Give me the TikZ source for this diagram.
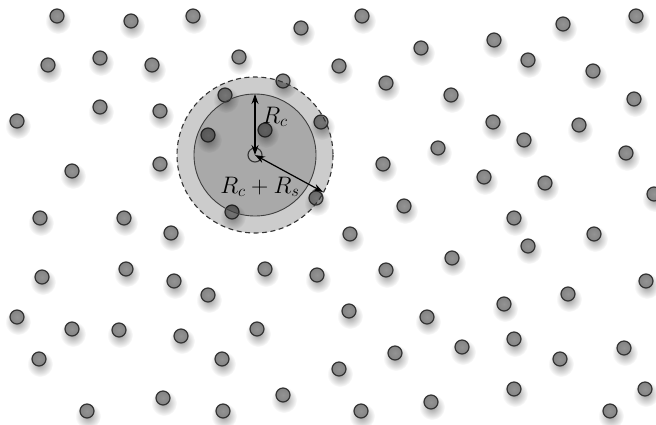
\documentclass[tikz,border=0pt]{standalone}
\usetikzlibrary{arrows.meta,fadings}
\tikzfading[name=softshadow, inner color=transparent!62, outer color=transparent!100]
\pgfdeclareradialshading{particleshade}{\pgfpointorigin}{color(0bp)=(black!42); color(30bp)=(black!50); color(50bp)=(black!64)}
\tikzset{
  partshadow/.style={fill=black, path fading=softshadow},
  partball/.style={shading=particleshade, draw=black!80, line width=1.2pt},
  ringouter/.style={fill=black, fill opacity=0.2, draw=black!80, draw opacity=1, line width=1.1pt, dash pattern=on 5pt off 3.5pt},
  ringinner/.style={fill=black, fill opacity=0.17, draw=black!75, draw opacity=1, line width=0.9pt},
  radarrow/.style={{Stealth[length=10pt,width=7pt]}-{Stealth[length=10pt,width=7pt]}, line width=1.2pt, black},
  lbl/.style={font=\huge, inner sep=0pt, scale=1.15}
}
\begin{document}
\begin{tikzpicture}[x=1pt,y=-1pt]
\useasboundingbox (0,0) rectangle (656,424);
\fill[white] (0,0) rectangle (656,424);
\def\plist{57/16,131/21,193/16,301/28,362/16,421/48,494/40,563/24,636/16,
48/65,100/58,152/65,239/57,339/66,386/83,528/60,593/71,
283/81,225/95,451/95,634/99,
100/107,160/111,17/121,321/122,493/122,579/125,
265/130,208/135,524/140,438/148,626/153,
72/171,160/164,383/164,484/177,545/183,654/194,
316/198,404/206,232/212,
40/218,124/218,514/218,171/233,350/234,594/234,
528/246,452/258,
42/277,126/269,174/281,208/295,265/269,317/275,386/270,646/281,568/294,
504/304,17/317,349/311,427/317,
72/329,119/330,181/336,257/329,514/339,462/347,395/353,624/348,
39/359,222/359,560/359,339/369,
163/398,283/395,514/389,645/389,431/402,
87/411,223/411,361/411,610/411}
\foreach \px/\py in \plist {\fill[partshadow] (\px+1,\py+5) circle (13);}
\foreach \px/\py in \plist {\path[partball] (\px,\py) circle (7);}
% interaction shells
\coordinate (c) at (255,155);
\path[ringouter] (c) circle (78);
\path[ringinner] (c) circle (61);
\draw[black!80, line width=1.1pt] (c) circle (7);
\coordinate (top) at (255,94);
\coordinate (rim) at (323,192);
\draw[radarrow] (c) -- (top);
\draw[radarrow] (c) -- (rim);
\node[lbl] (lc) at (275,117) {$R_c$};
\node[lbl] (lcs) at (260,187) {$R_c+R_s$};
\end{tikzpicture}
\end{document}
